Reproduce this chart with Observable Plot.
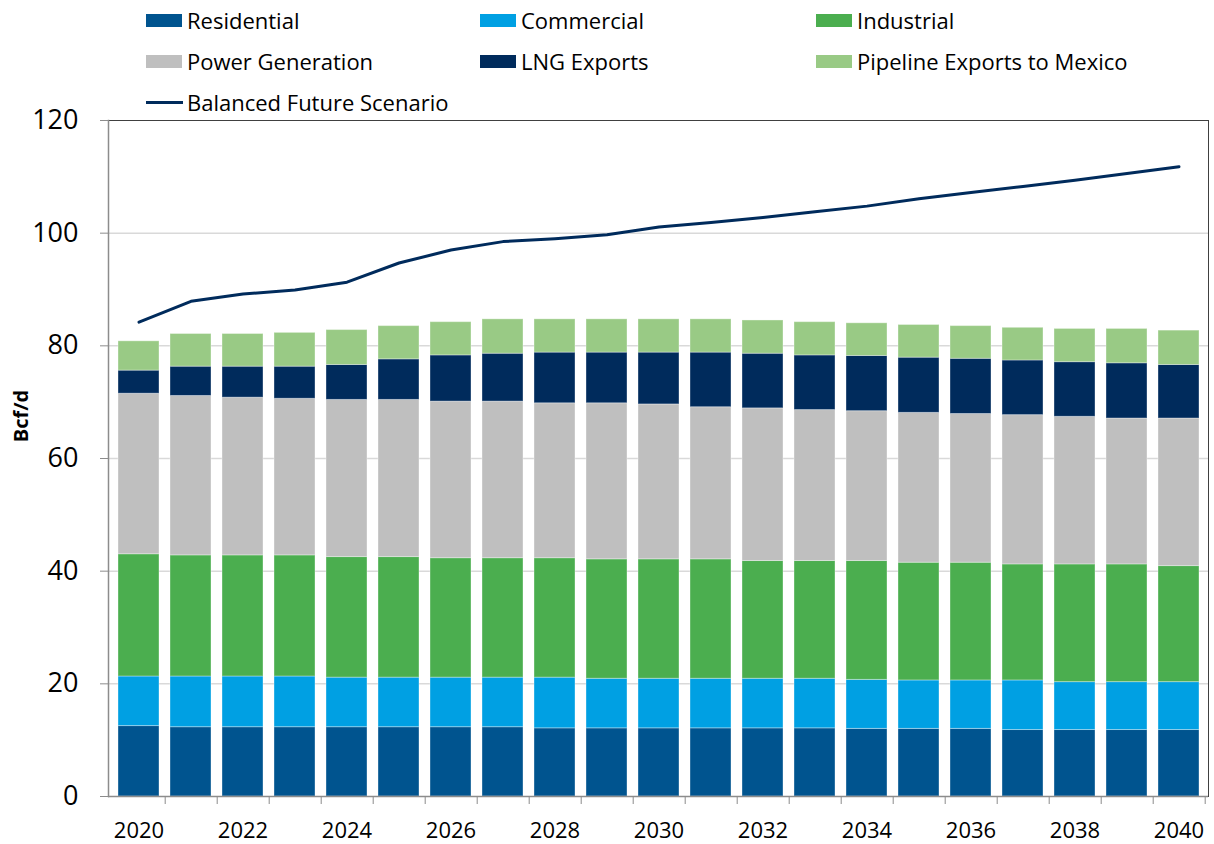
<!DOCTYPE html>
<html><head><meta charset="utf-8">
<script src="https://cdn.jsdelivr.net/npm/d3@7"></script>
<script src="https://cdn.jsdelivr.net/npm/@observablehq/plot@0.6"></script>
<style>
body{margin:0;background:#fff;font-family:"Open Sans",sans-serif;}
#wrap{position:relative;width:1214px;height:844px;}
#chart{position:absolute;left:0;top:0;}
.item{position:absolute;display:flex;align-items:center;font-size:22px;color:#000;white-space:nowrap;transform:translateY(-50%);line-height:1;}
.sw{width:36px;height:13px;margin-right:5px;}
.ln{width:37px;height:3px;margin-right:4px;}
#ylab{position:absolute;left:20px;top:416px;transform:translate(-50%,-50%) rotate(-90deg);font-weight:bold;font-size:20px;color:#000;white-space:nowrap;}
</style></head>
<body>
<div id="wrap"><div id="chart"></div><div id="legend"></div><div id="ylab">Bcf/d</div></div>
<script>
const years = [2020,2021,2022,2023,2024,2025,2026,2027,2028,2029,2030,2031,2032,2033,2034,2035,2036,2037,2038,2039,2040];
const series = ["Residential","Commercial","Industrial","Power Generation","LNG Exports","Pipeline Exports to Mexico"];
const colors = ["#00548F","#00A0E3","#4BAE4F","#BFBFBF","#002B5C","#99CA85"];
const residential = [12.5,12.3,12.3,12.3,12.3,12.3,12.3,12.3,12.1,12.1,12.1,12.1,12.1,12.1,12.0,12.0,12.0,11.8,11.8,11.8,11.8];
const commercial  = [8.8,9.0,9.0,9.0,8.8,8.8,8.8,8.8,9.0,8.8,8.8,8.8,8.8,8.8,8.7,8.6,8.6,8.8,8.5,8.5,8.5];
const industrial  = [21.7,21.5,21.5,21.5,21.4,21.4,21.2,21.2,21.2,21.2,21.2,21.2,20.9,20.9,21.1,20.9,20.9,20.6,20.9,20.9,20.6];
const powerGen    = [28.5,28.3,28.0,27.8,27.9,27.9,27.8,27.8,27.5,27.7,27.5,27.0,27.1,26.8,26.6,26.6,26.4,26.5,26.2,25.9,26.2];
const lngExports  = [4.1,5.2,5.5,5.7,6.2,7.2,8.2,8.5,9.0,9.0,9.2,9.7,9.7,9.7,9.8,9.8,9.8,9.7,9.7,9.8,9.5];
const pipelineMex = [5.2,5.8,5.8,6.0,6.2,5.9,5.9,6.1,5.9,5.9,5.9,5.9,5.9,5.9,5.8,5.8,5.8,5.8,5.9,6.1,6.1];
const balanced    = [84.2,87.9,89.2,89.9,91.3,94.7,97.0,98.5,99.0,99.7,101.1,101.9,102.8,103.8,104.8,106.1,107.2,108.3,109.4,110.6,111.8];
const lineName = "Balanced Future Scenario";
const yTicks = [0,20,40,60,80,100,120];
const gridTicks = [20,40,60,80,100];
const xLabelYears = [2020,2022,2024,2026,2028,2030,2032,2034,2036,2038,2040];

const seriesValues = [residential,commercial,industrial,powerGen,lngExports,pipelineMex];
const data = years.flatMap((year,i)=>series.map((s,k)=>({year, series:s, value:seriesValues[k][i]})));
const lineData = years.map((year,i)=>({year, value:balanced[i]}));

const W=1214,H=844,mL=108,mR=6,mT=120,mB=48;
const step=(W-mL-mR)/years.length;

const chart = Plot.plot({
  width:W,height:H,marginLeft:mL,marginRight:mR,marginTop:mT,marginBottom:mB,
  style:{fontFamily:"'Open Sans',sans-serif",background:"white",overflow:"visible",color:"#000"},
  x:{type:"band",domain:years,paddingInner:0.22,paddingOuter:0.11},
  y:{domain:[0,120]},
  color:{domain:series,range:colors},
  marks:[
    Plot.ruleY(gridTicks,{stroke:"#d9d9d9",strokeWidth:1.5}),
    Plot.barY(data,{x:"year",y:"value",fill:"series",stroke:"#ffffff",strokeOpacity:0.35,strokeWidth:1}),
    Plot.line(lineData,{x:"year",y:"value",stroke:"#002B5C",strokeWidth:3}),
    Plot.frame({stroke:"#404040"}),
    Plot.frame({anchor:"left",stroke:"#8c8c8c",strokeWidth:1.5}),
    Plot.ruleY([0],{stroke:"#8c8c8c",strokeWidth:1.5}),
    Plot.axisY({ticks:yTicks,tickSize:8,tickPadding:22,fontSize:27,stroke:"#8c8c8c",fill:"#000",label:null}),
    Plot.axisX({ticks:years,tickSize:8,tickFormat:()=>"",dx:step/2,stroke:"#8c8c8c",label:null}),
    Plot.axisX({ticks:xLabelYears,tickSize:0,tickPadding:26,fontSize:22,tickFormat:d3.format("d"),fill:"#000",label:null})
  ]
});
document.getElementById("chart").appendChild(chart);

// legend (HTML)
const legend = document.getElementById("legend");
const colLeft=[146,480,816], rowMid=[20,61,102];
series.forEach((s,k)=>{
  const d=document.createElement("div");
  d.className="item";
  d.style.left=colLeft[k%3]+"px"; d.style.top=rowMid[Math.floor(k/3)]+"px";
  d.innerHTML=`<span class="sw" style="background:${colors[k]}"></span><span>${s}</span>`;
  legend.appendChild(d);
});
const li=document.createElement("div");
li.className="item"; li.style.left=colLeft[0]+"px"; li.style.top=rowMid[2]+"px";
li.innerHTML=`<span class="ln" style="background:#002B5C"></span><span>${lineName}</span>`;
legend.appendChild(li);
</script>
</body></html>
